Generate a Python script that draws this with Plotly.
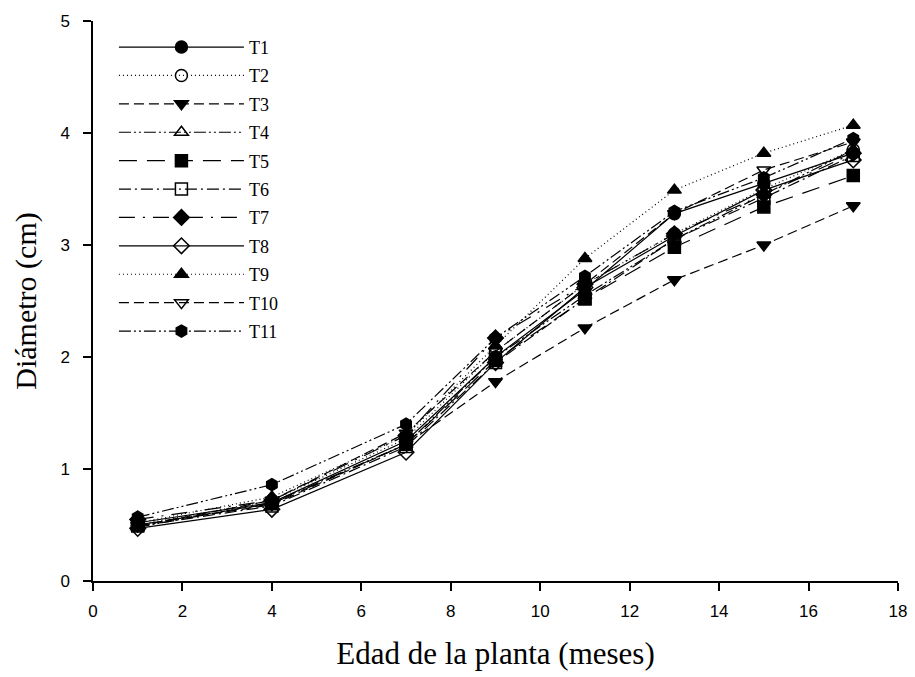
import plotly.graph_objects as go

months = [1, 4, 7, 9, 11, 13, 15, 17]
names = ["T1", "T2", "T3", "T4", "T5", "T6", "T7", "T8", "T9", "T10", "T11"]

T1 = [0.52, 0.70, 1.25, 2.00, 2.60, 3.28, 3.55, 3.82]
T2 = [0.50, 0.72, 1.27, 2.05, 2.65, 3.10, 3.50, 3.85]
T3 = [0.50, 0.68, 1.22, 1.78, 2.26, 2.69, 3.00, 3.35]
T4 = [0.48, 0.70, 1.22, 2.00, 2.55, 3.05, 3.45, 3.85]
T5 = [0.50, 0.69, 1.22, 1.97, 2.52, 2.98, 3.34, 3.62]
T6 = [0.49, 0.67, 1.20, 1.95, 2.52, 3.05, 3.42, 3.80]
T7 = [0.55, 0.72, 1.30, 2.17, 2.65, 3.10, 3.45, 3.82]
T8 = [0.47, 0.64, 1.15, 1.95, 2.62, 3.08, 3.49, 3.76]
T9 = [0.52, 0.75, 1.30, 2.10, 2.88, 3.49, 3.82, 4.07]
T10 = [0.49, 0.72, 1.32, 2.05, 2.65, 3.28, 3.67, 3.92]
T11 = [0.57, 0.86, 1.40, 2.17, 2.72, 3.30, 3.60, 3.95]
series = [T1, T2, T3, T4, T5, T6, T7, T8, T9, T10, T11]

symbols = ["circle", "circle-open", "triangle-down", "triangle-up-open", "square",
           "square-open", "diamond", "diamond-open", "triangle-up", "triangle-down-open",
           "hexagon"]
dashes = ["solid", "1px,3px", "10px,5px", "12px,3px,2px,3px,2px,3px", "18px,10px",
          "12px,4px,2px,4px", "16px,8px,2px,8px", "solid", "1px,3px", "10px,5px",
          "12px,3px,2px,3px,2px,3px"]

fig = go.Figure()
for name, vals, sym, dash in zip(names, series, symbols, dashes):
    fig.add_trace(go.Scatter(
        x=months, y=vals, name=name, mode="lines+markers", legendgroup=name,
        line=dict(color="black", width=1.2, dash=dash),
        marker=dict(symbol=sym, size=12, color="black",
                    line=dict(color="black", width=1.5)),
    ))

axis_common = dict(
    showgrid=False, zeroline=False, showline=True, linecolor="black", linewidth=1.5,
    ticks="outside", ticklen=8, tickwidth=1.5, tickcolor="black",
    tickfont=dict(family="Liberation Sans, Arial", size=17, color="black"),
    mirror=False, automargin=False,
)
fig.update_xaxes(range=[0, 18], dtick=2, tick0=0, ticklabelstandoff=6,
                 title=dict(text="Edad de la planta (meses)", standoff=22,
                            font=dict(family="Liberation Serif, Times New Roman", size=31, color="black")),
                 **axis_common)
fig.update_yaxes(range=[0, 5], dtick=1, tick0=0, ticklabelstandoff=10,
                 title=dict(text="Diámetro (cm)", standoff=15,
                            font=dict(family="Liberation Serif, Times New Roman", size=30, color="black")),
                 **axis_common)

fig.update_layout(
    width=907, height=669,
    margin=dict(l=85, r=17, t=13, b=96),
    plot_bgcolor="white", paper_bgcolor="white",
    showlegend=True,
    legend=dict(x=0.026, y=0.986, xanchor="left", yanchor="top",
                bgcolor="rgba(0,0,0,0)", borderwidth=0, tracegroupgap=2,
                font=dict(family="Liberation Serif, Times New Roman", size=18, color="black"),
                itemwidth=125),
)

fig.write_html("out.html")
